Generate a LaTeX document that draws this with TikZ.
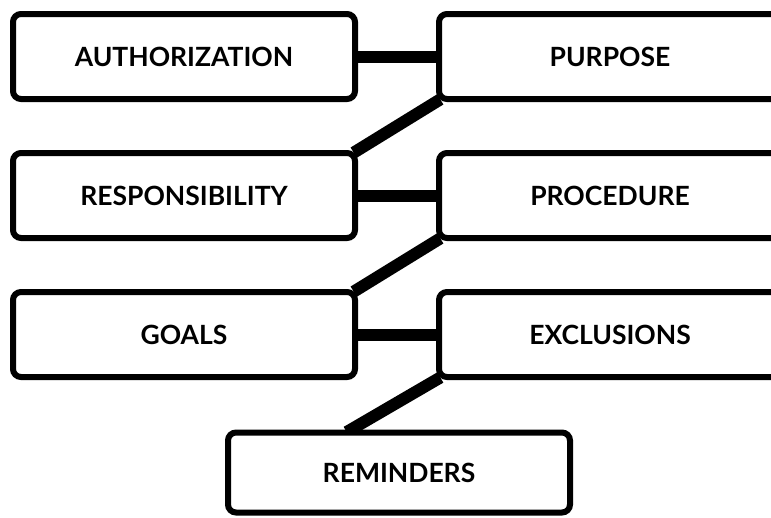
\documentclass[tikz,border=0pt]{standalone}
\usepackage{fontspec}
\setmainfont{Lato}
\usetikzlibrary{positioning}
\usetikzlibrary{backgrounds}

\tikzset{
  topic/.style={draw=black, line width=6pt, rounded corners=8pt, fill=white,
    minimum width=342pt, minimum height=85pt, inner sep=0pt,
    font=\fontsize{26.5}{30}\selectfont\bfseries},
  link/.style={line width=12pt, shorten <=-5pt, shorten >=-5pt},
}

\begin{document}
\begin{tikzpicture}[x=1pt,y=1pt]
	\useasboundingbox (0,0) rectangle (771,-517);
	\clip (0,0) rectangle (771,-517);

	\node[topic] (auth) at (184,-56.5) {AUTHORIZATION};
	\node[topic, right=78pt of auth] (purp) {PURPOSE};
	\node[topic, below=48pt of auth] (resp) {RESPONSIBILITY};
	\node[topic, right=78pt of resp] (proc) {PROCEDURE};
	\node[topic, below=48pt of resp] (goals) {GOALS};
	\node[topic, right=78pt of goals] (excl) {EXCLUSIONS};
	\node[topic, minimum height=80pt] (rem) at (399,-472.5) {REMINDERS};

	\begin{scope}[on background layer]
		\draw[link] (auth) -- (purp);
		\draw[link] (purp.south west) -- (resp.north east);
		\draw[link] (resp) -- (proc);
		\draw[link] (proc.south west) -- (goals.north east);
		\draw[link] (goals) -- (excl);
		\draw[link] (excl.south west) -- ([xshift=-48pt]rem.north);
	\end{scope}
\end{tikzpicture}
\end{document}
